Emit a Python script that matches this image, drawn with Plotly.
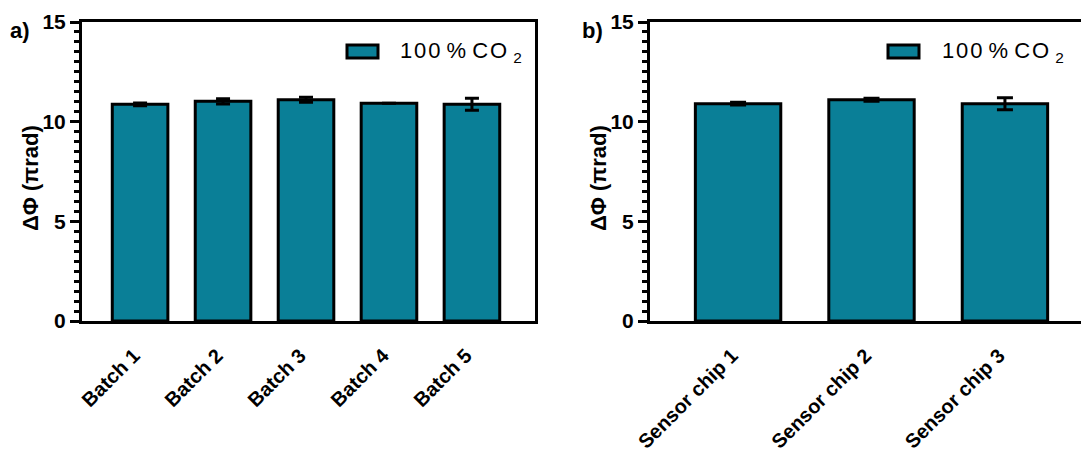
import plotly.graph_objects as go

# ---- data ----
batches = ["Batch 1", "Batch 2", "Batch 3", "Batch 4", "Batch 5"]
batch_values = [10.87, 11.02, 11.10, 10.93, 10.87]
batch_errors = [0.07, 0.13, 0.12, 0.0, 0.30]

chips = ["Sensor chip 1", "Sensor chip 2", "Sensor chip 3"]
chip_values = [10.90, 11.10, 10.90]
chip_errors = [0.07, 0.08, 0.30]

y_ticks = [0, 5, 10, 15]
legend_label = "1\u200a0\u200a0 % C\u200aO <sub>2</sub>"
y_title = "<b>ΔΦ (πrad)</b>"

W, H = 1089, 454
OX, OY = 8, 8  # page body margin offset


def px(x):
    return (x - OX) / W


def py(y):
    return 1 - (y - OY) / H


BAR = "#0A7F97"
FONT = "Liberation Sans, Arial, sans-serif"

fig = go.Figure()
fig.add_trace(go.Bar(
    x=batches, y=batch_values, width=0.67,
    marker=dict(color=BAR, line=dict(color="black", width=3)),
    error_y=dict(type="data", array=batch_errors, color="black", thickness=3, width=7),
    xaxis="x", yaxis="y", showlegend=False))
fig.add_trace(go.Bar(
    x=chips, y=chip_values, width=0.64,
    marker=dict(color=BAR, line=dict(color="black", width=3)),
    error_y=dict(type="data", array=chip_errors, color="black", thickness=3, width=8),
    xaxis="x2", yaxis="y2", showlegend=False))

ydom = [py(321), py(22)]
yax_common = dict(
    range=[0, 15], tickvals=y_ticks, showline=True, linecolor="black", linewidth=3,
    ticks="outside", ticklen=9, tickwidth=3, tickcolor="black",
    minor=dict(dtick=0.5, ticks="outside", ticklen=5, tickwidth=3, tickcolor="black"),
    showgrid=False, zeroline=False, automargin=False,
    tickfont=dict(family=FONT, size=21, color="black", weight="bold"),
    domain=ydom, fixedrange=True)
xax_common = dict(
    showline=True, linecolor="black", linewidth=3, ticks="", showgrid=False,
    tickangle=-45, tickfont=dict(family=FONT, size=20, color="black", weight="bold"),
    ticklabelstandoff=12, ticklabelshift=-6,
    mirror=True, zeroline=False, automargin=False)

fig.update_layout(
    width=W, height=H, margin=dict(l=0, r=0, t=0, b=0),
    paper_bgcolor="white", plot_bgcolor="white",
    xaxis=dict(domain=[px(82), px(535)], range=[-0.7, 4.76], anchor="y", **xax_common),
    yaxis=dict(anchor="x", mirror=True, **yax_common),
    xaxis2=dict(domain=[px(650), 1.0], range=[-0.66, 2.63 + 8 / 133.5], anchor="y2", **xax_common),
    yaxis2=dict(anchor="x2", mirror=False, **yax_common),
    bargap=0.3,
)

# legends (swatch + text)
for x0, tx in [(347, 398), (888, 940)]:
    fig.add_shape(type="rect", xref="paper", yref="paper",
                  x0=px(x0), x1=px(x0 + 31), y0=py(58), y1=py(45),
                  fillcolor=BAR, line=dict(color="black", width=3))
    fig.add_annotation(xref="paper", yref="paper", x=px(tx), y=py(52),
                       text=legend_label, showarrow=False, xanchor="left", yanchor="middle",
                       font=dict(family=FONT, size=22, color="black"))

# y titles
for xc in [30, 598]:
    fig.add_annotation(xref="paper", yref="paper", x=px(xc), y=py(178),
                       text=y_title, textangle=-90, showarrow=False,
                       xanchor="center", yanchor="middle",
                       font=dict(family=FONT, size=22, color="black"))

# panel labels
for xl, lab in [(8, "a)"), (580, "b)")]:
    fig.add_annotation(xref="paper", yref="paper", x=px(xl), y=py(31),
                       text="<b>" + lab + "</b>", showarrow=False,
                       xanchor="left", yanchor="middle",
                       font=dict(family=FONT, size=22, color="black"))

fig.write_html("out.html")
